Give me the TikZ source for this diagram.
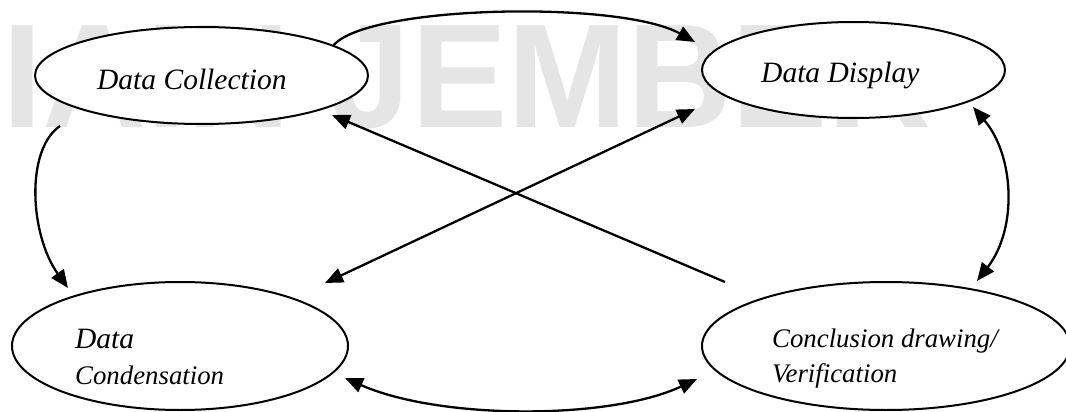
\documentclass[tikz,border=0pt]{standalone}
\usepackage{fontspec}
\usepackage{graphicx}
\setmainfont{Liberation Serif}
\newfontfamily\wmfont{Liberation Sans}
\usetikzlibrary{shapes.geometric,arrows.meta}
\definecolor{wmgray}{RGB}{229,229,229}
\tikzset{
  stage/.style={ellipse, draw=black, fill=white, line width=2pt, inner sep=0pt},
  lbl/.style={anchor=base west, inner sep=0pt, font=\itshape},
  tip/.style={Triangle[length=18pt,width=15pt]},
  conn/.style={line width=2.3pt, -{Triangle[length=18pt,width=15pt]}},
  biconn/.style={line width=2.3pt, {Triangle[length=18pt,width=15pt]}-{Triangle[length=18pt,width=15pt]}}
}
\begin{document}
\begin{tikzpicture}[x=1pt,y=-1pt]
\clip (0,0) rectangle (1066,412);
\fill[white] (0,0) rectangle (1066,412);
% watermark
\node[anchor=base west, inner sep=0pt, text=wmgray, font=\wmfont\bfseries\fontsize{148}{148}\selectfont] (wmark) at (2,128) {\scalebox{0.975}[1]{IAIN JEMBER}};
% stages
\node[stage, minimum width=333pt, minimum height=97pt] (dc) at (201.5,75.5) {};
\node[stage, minimum width=303pt, minimum height=96pt] (dd) at (853.5,70) {};
\node[stage, minimum width=336pt, minimum height=128pt] (cn) at (180,346) {};
\node[stage, minimum width=368pt, minimum height=128pt] (cv) at (886,346) {};
% labels
\node[lbl, font=\itshape\fontsize{29.5}{33}\selectfont] (tdc) at (97,89) {Data Collection};
\node[lbl, font=\itshape\fontsize{29.5}{33}\selectfont] (tdd) at (761,83) {Data Display};
\node[lbl, font=\itshape\fontsize{29.5}{33}\selectfont] (tcn1) at (75,348) {Data};
\node[lbl, font=\itshape\fontsize{26.8}{30}\selectfont] (tcn2) at (75,384) {Condensation};
\node[lbl, font=\itshape\fontsize{26.8}{30}\selectfont] (tcv1) at (772,347) {Conclusion drawing/};
\node[lbl, font=\itshape\fontsize{26.8}{30}\selectfont] (tcv2) at (772,382) {Verification};
% connectors
\draw[conn] ([shift={(131.5,-29.5)}]dc.center) .. controls (365,5) and (620,0) .. ([shift={(-158.5,-28)}]dd.center);
\draw[conn] ([shift={(-141.5,50.5)}]dc.center) .. controls (25,150) and (30,235) .. ([shift={(-112,-58)}]cn.center);
\draw[conn] ([shift={(-161,-64)}]cv.center) -- ([shift={(130.5,39.5)}]dc.center);
\draw[biconn] ([shift={(145,-63)}]cn.center) -- ([shift={(-158.5,39)}]dd.center);
\draw[biconn] ([shift={(119.5,37)}]dd.center) .. controls (1014,155) and (1018,228) .. ([shift={(91,-65)}]cv.center);
\draw[biconn] ([shift={(165,32)}]cn.center) .. controls (440,420) and (610,420) .. ([shift={(-189,33)}]cv.center);
\end{tikzpicture}
\end{document}
